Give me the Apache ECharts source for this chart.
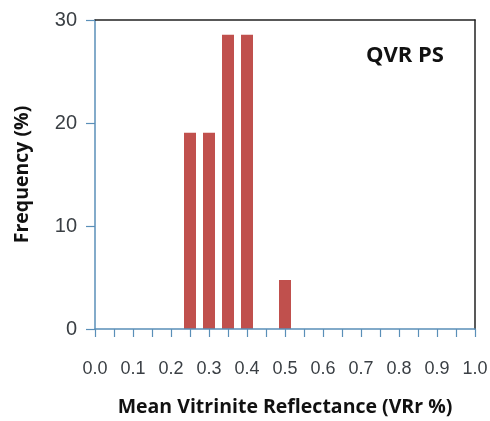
<!DOCTYPE html>
<html>
<head>
<meta charset="utf-8">
<script src="https://cdn.jsdelivr.net/npm/echarts@6/dist/echarts.min.js"></script>
<style>
  html, body { margin: 0; padding: 0; background: #fff; }
</style>
</head>
<body>
<div id="main" style="width: 490px;height:421px;"></div>
<script type="text/javascript">
    // data
    var reflectance = [0.25, 0.30, 0.35, 0.40, 0.50];
    var frequency = [19.05, 19.05, 28.57, 28.57, 4.76];
    var yTicks = [0, 10, 20, 30];

    var barData = reflectance.map(function(x, i){
      return [x, frequency[i]];
    });

    var myChart = echarts.init(document.getElementById('main'));
    var axisBlue = '#5a8fb8';
    var tickFont = '"Liberation Sans Narrow", "Arial Narrow", "Liberation Sans", sans-serif';
    var nameStyle = {
      fontFamily: 'Open Sans',
      fontWeight: 'bold',
      fontSize: 19.5,
      color: '#111'
    };
    // top / right frame lines drawn as bare axes
    var frameAxis = {
      show: true,
      axisLine: { show: true, onZero: false, lineStyle: { color: '#222', width: 1.5 } },
      axisTick: { show: false },
      axisLabel: { show: false },
      splitLine: { show: false }
    };
    var option = {
      animation: false,
      grid: {
        left: 95,
        top: 20,
        right: 15,
        bottom: 92,
        outerBoundsMode: 'none'
      },
      graphic: [{
        type: 'text',
        left: 366,
        top: 45,
        style: {
          text: 'QVR PS',
          font: 'bold 22px "Open Sans", sans-serif',
          fill: '#111'
        }
      }],
      xAxis: [{
        type: 'value',
        position: 'bottom',
        min: 0,
        max: 1,
        interval: 0.05,
        name: 'Mean Vitrinite Reflectance (VRr %)',
        nameLocation: 'middle',
        nameGap: 68,
        nameTextStyle: nameStyle,
        axisLine: { show: true, onZero: false, lineStyle: { color: axisBlue, width: 1.5 } },
        axisTick: { show: true, inside: false, length: 8, lineStyle: { color: axisBlue, width: 1.2 } },
        splitLine: { show: false },
        axisLabel: {
          margin: 31,
          fontFamily: tickFont,
          fontSize: 18,
          color: '#3a3f44',
          formatter: function(v){
            var k = Math.round(v * 20);
            return k % 2 === 0 ? (k / 20).toFixed(1) : '';
          }
        },
        z: 5
      }, Object.assign({ type: 'value', position: 'top', min: 0, max: 1 }, frameAxis)],
      yAxis: [{
        type: 'value',
        position: 'left',
        min: yTicks[0],
        max: yTicks[yTicks.length - 1],
        interval: 10,
        name: 'Frequency (%)',
        nameLocation: 'middle',
        nameGap: 63,
        nameTextStyle: nameStyle,
        axisLine: { show: true, onZero: false, lineStyle: { color: axisBlue, width: 1.5 } },
        axisTick: { show: true, inside: false, length: 9, lineStyle: { color: axisBlue, width: 1.2 } },
        splitLine: { show: false },
        axisLabel: {
          margin: 18,
          fontFamily: tickFont,
          fontSize: 20,
          color: '#3a3f44'
        }
      }, Object.assign({ type: 'value', position: 'right', min: 0, max: 30 }, frameAxis)],
      series: [{
        type: 'bar',
        data: barData,
        barWidth: 12,
        itemStyle: { color: '#c0504d' }
      }]
    };
    myChart.setOption(option);
</script>
</body>
</html>
